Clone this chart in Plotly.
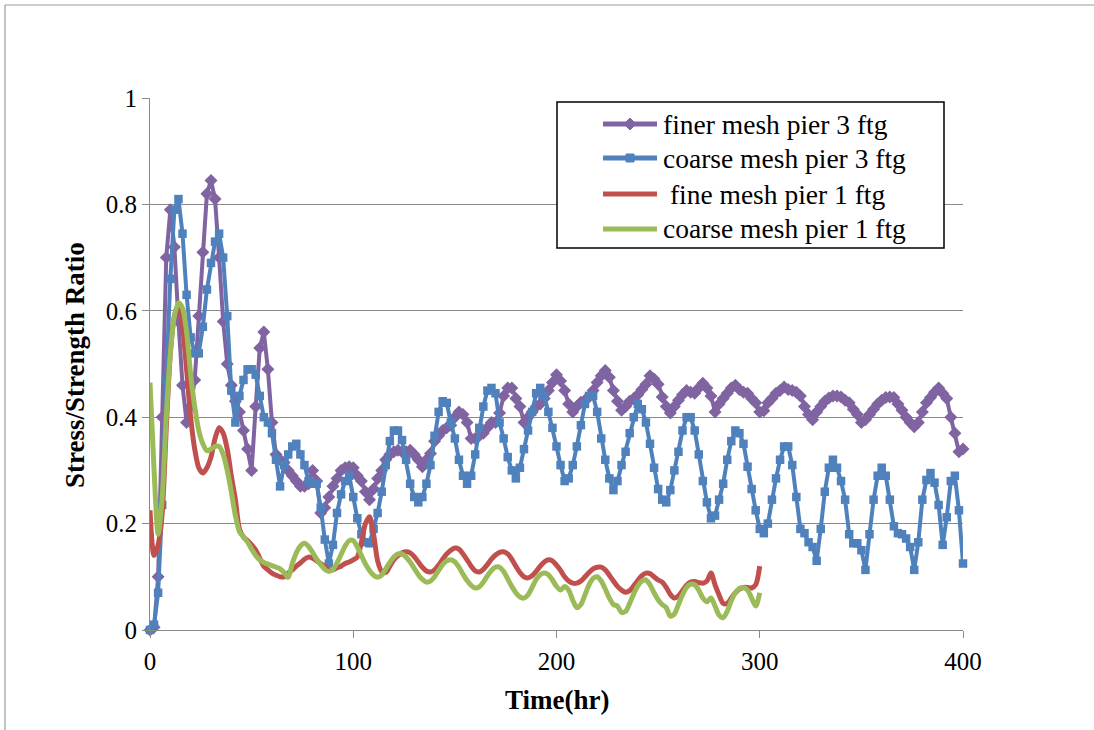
import plotly.graph_objects as go

# ---------------- data ----------------
time_3ftg = list(range(0, 401, 2))
finer_mesh_pier3 = [
    0.0, 0.005, 0.10, 0.40, 0.70, 0.79, 0.72, 0.58, 0.46, 0.39,
    0.42, 0.47, 0.59, 0.71, 0.82, 0.845, 0.81, 0.70, 0.58, 0.50,
    0.46, 0.43, 0.41, 0.375, 0.34, 0.30, 0.42, 0.53, 0.56, 0.49,
    0.39, 0.33, 0.32, 0.315, 0.30, 0.29, 0.28, 0.27, 0.27, 0.275,
    0.30, 0.28, 0.22, 0.23, 0.25, 0.27, 0.285, 0.30, 0.305, 0.307,
    0.305, 0.29, 0.28, 0.26, 0.245, 0.265, 0.285, 0.30, 0.32, 0.33,
    0.335, 0.338, 0.335, 0.335, 0.338, 0.33, 0.32, 0.307, 0.32, 0.332,
    0.355, 0.365, 0.375, 0.38, 0.385, 0.40, 0.41, 0.405, 0.39, 0.36,
    0.36, 0.365, 0.37, 0.38, 0.39, 0.39, 0.408, 0.44, 0.455, 0.455,
    0.435, 0.42, 0.39, 0.40, 0.41, 0.42, 0.425, 0.435, 0.45, 0.465,
    0.48, 0.468, 0.45, 0.425, 0.41, 0.42, 0.428, 0.432, 0.438, 0.45,
    0.465, 0.478, 0.488, 0.475, 0.45, 0.43, 0.413, 0.42, 0.43, 0.435,
    0.442, 0.452, 0.462, 0.478, 0.472, 0.462, 0.438, 0.42, 0.408, 0.42,
    0.432, 0.442, 0.45, 0.447, 0.445, 0.455, 0.464, 0.455, 0.44, 0.41,
    0.425, 0.435, 0.445, 0.455, 0.46, 0.452, 0.447, 0.445, 0.435, 0.427,
    0.41, 0.412, 0.427, 0.435, 0.445, 0.45, 0.457, 0.452, 0.45, 0.447,
    0.44, 0.42, 0.405, 0.395, 0.41, 0.42, 0.43, 0.436, 0.44, 0.44,
    0.438, 0.432, 0.427, 0.415, 0.405, 0.39, 0.395, 0.405, 0.415, 0.425,
    0.432, 0.437, 0.438, 0.437, 0.425, 0.413, 0.40, 0.39, 0.382, 0.39,
    0.41, 0.427, 0.437, 0.447, 0.455, 0.445, 0.435, 0.40, 0.37, 0.335,
    0.34,
]
coarse_mesh_pier3 = [
    0.0, 0.01, 0.07, 0.235, 0.47, 0.66, 0.79, 0.81, 0.745, 0.63,
    0.55, 0.52, 0.52, 0.57, 0.64, 0.69, 0.73, 0.745, 0.70, 0.59,
    0.45, 0.39, 0.44, 0.47, 0.49, 0.49, 0.48, 0.44, 0.40, 0.39,
    0.37, 0.32, 0.27, 0.31, 0.33, 0.345, 0.35, 0.33, 0.31, 0.28,
    0.275, 0.275, 0.23, 0.17, 0.125, 0.16, 0.22, 0.255, 0.28, 0.29,
    0.25, 0.21, 0.18, 0.165, 0.163, 0.19, 0.22, 0.26, 0.31, 0.355,
    0.375, 0.375, 0.357, 0.32, 0.275, 0.25, 0.24, 0.25, 0.275, 0.31,
    0.365, 0.41, 0.43, 0.427, 0.39, 0.36, 0.32, 0.29, 0.275, 0.29,
    0.33, 0.38, 0.42, 0.45, 0.455, 0.445, 0.39, 0.36, 0.325, 0.30,
    0.285, 0.305, 0.34, 0.375, 0.41, 0.445, 0.455, 0.44, 0.41, 0.38,
    0.345, 0.31, 0.28, 0.285, 0.31, 0.345, 0.385, 0.425, 0.44, 0.44,
    0.41, 0.36, 0.32, 0.285, 0.263, 0.28, 0.31, 0.335, 0.37, 0.40,
    0.425, 0.415, 0.39, 0.35, 0.305, 0.265, 0.245, 0.24, 0.263, 0.30,
    0.335, 0.375, 0.40, 0.40, 0.375, 0.33, 0.28, 0.24, 0.21, 0.215,
    0.245, 0.275, 0.32, 0.355, 0.375, 0.37, 0.35, 0.307, 0.265, 0.225,
    0.19, 0.182, 0.20, 0.245, 0.285, 0.32, 0.345, 0.345, 0.31, 0.25,
    0.19, 0.182, 0.165, 0.156, 0.13, 0.19, 0.26, 0.305, 0.32, 0.305,
    0.28, 0.245, 0.18, 0.163, 0.163, 0.15, 0.113, 0.18, 0.245, 0.29,
    0.305, 0.29, 0.245, 0.195, 0.182, 0.18, 0.172, 0.156, 0.113, 0.165,
    0.245, 0.282, 0.295, 0.277, 0.235, 0.16, 0.212, 0.28, 0.29, 0.225,
    0.125,
]
time_1ftg = list(range(0, 301, 2))
fine_mesh_pier1 = [
    0.225, 0.14, 0.16, 0.22, 0.38, 0.52, 0.59, 0.61, 0.57, 0.49,
    0.40, 0.34, 0.305, 0.295, 0.305, 0.325, 0.36, 0.38, 0.37, 0.34,
    0.29, 0.245, 0.19, 0.175, 0.168, 0.16, 0.15, 0.135, 0.12, 0.113,
    0.107, 0.103, 0.10, 0.10, 0.107, 0.113, 0.12, 0.126, 0.133, 0.137,
    0.135, 0.13, 0.125, 0.12, 0.113, 0.113, 0.117, 0.12, 0.125, 0.128,
    0.132, 0.137, 0.165, 0.20, 0.213, 0.18, 0.13, 0.11, 0.108, 0.12,
    0.132, 0.14, 0.145, 0.147, 0.145, 0.138, 0.128, 0.118, 0.111, 0.109,
    0.113, 0.122, 0.133, 0.143, 0.15, 0.154, 0.152, 0.143, 0.132, 0.12,
    0.111, 0.109, 0.114, 0.123, 0.133, 0.141, 0.146, 0.147, 0.143, 0.133,
    0.12, 0.108, 0.10, 0.098, 0.102, 0.11, 0.12, 0.128, 0.132, 0.13,
    0.122, 0.112, 0.10, 0.092, 0.088, 0.088, 0.092, 0.10, 0.108, 0.115,
    0.118, 0.118, 0.113, 0.103, 0.092, 0.082, 0.075, 0.071, 0.074, 0.083,
    0.093, 0.102, 0.107, 0.106, 0.10, 0.094, 0.09, 0.08, 0.067, 0.06,
    0.064, 0.074, 0.084, 0.09, 0.091, 0.089, 0.088, 0.092, 0.107, 0.085,
    0.066, 0.05, 0.05, 0.06, 0.07, 0.077, 0.08, 0.08, 0.079, 0.085,
    0.12,
]
coarse_mesh_pier1 = [
    0.465, 0.30, 0.18, 0.25, 0.40, 0.52, 0.59, 0.615, 0.605, 0.56,
    0.48, 0.42, 0.375, 0.35, 0.337, 0.34, 0.345, 0.345, 0.33, 0.30,
    0.26, 0.215, 0.185, 0.175, 0.165, 0.152, 0.14, 0.132, 0.127, 0.124,
    0.121, 0.118, 0.115, 0.108, 0.099, 0.125, 0.145, 0.158, 0.163, 0.157,
    0.146, 0.133, 0.123, 0.114, 0.11, 0.114, 0.126, 0.142, 0.158, 0.168,
    0.168, 0.156, 0.14, 0.124, 0.112, 0.103, 0.099, 0.103, 0.115, 0.127,
    0.137, 0.143, 0.143, 0.137, 0.128, 0.116, 0.104, 0.095, 0.09, 0.092,
    0.10, 0.112, 0.123, 0.13, 0.132, 0.128, 0.118, 0.105, 0.093, 0.084,
    0.079, 0.081, 0.09, 0.102, 0.112, 0.118, 0.118, 0.11, 0.096, 0.082,
    0.07, 0.062, 0.06, 0.066, 0.08, 0.095, 0.104, 0.107, 0.104, 0.094,
    0.082, 0.075, 0.082, 0.075, 0.056, 0.042, 0.048, 0.066, 0.085, 0.097,
    0.10, 0.092, 0.077, 0.06, 0.048, 0.045, 0.033, 0.035, 0.05, 0.068,
    0.083, 0.092, 0.094, 0.085, 0.07, 0.057, 0.048, 0.042, 0.026, 0.03,
    0.048, 0.066, 0.08, 0.086, 0.085, 0.075, 0.06, 0.053, 0.06, 0.045,
    0.028, 0.023, 0.035, 0.055, 0.07, 0.078, 0.08, 0.075, 0.06, 0.045,
    0.07,
]
x_ticks = [0, 100, 200, 300, 400]
y_ticks = [0, 0.2, 0.4, 0.6, 0.8, 1]
series_names = ["finer mesh pier 3 ftg", "coarse mesh pier 3 ftg",
                " fine mesh pier 1 ftg", "coarse mesh pier 1 ftg"]

# ---------------- figure ----------------
W, H = 1094, 730
L, R, T, B = 150, 131, 98, 100
pw, ph = W - L - R, H - T - B

def px_x(p):
    return (p - L) / pw

def px_y(p):
    return (H - B - p) / ph

PURPLE, BLUE, RED, GREEN = "#8064A2", "#4F81BD", "#C0504D", "#9BBB59"
COLORS = [PURPLE, BLUE, RED, GREEN]
SERIF = "Liberation Serif"

fig = go.Figure()
fig.add_trace(go.Scatter(
    x=time_3ftg, y=finer_mesh_pier3, name=series_names[0], mode="lines+markers",
    line=dict(color=PURPLE, width=4), marker=dict(symbol="diamond", size=10, color=PURPLE),
    cliponaxis=False))
fig.add_trace(go.Scatter(
    x=time_3ftg, y=coarse_mesh_pier3, name=series_names[1], mode="lines+markers",
    line=dict(color=BLUE, width=4), marker=dict(symbol="square", size=8.5, color=BLUE),
    cliponaxis=False))
fig.add_trace(go.Scatter(
    x=time_1ftg, y=fine_mesh_pier1, name=series_names[2], mode="lines",
    line=dict(color=RED, width=5, shape="spline", smoothing=0.8),
    cliponaxis=False))
fig.add_trace(go.Scatter(
    x=time_1ftg, y=coarse_mesh_pier1, name=series_names[3], mode="lines",
    line=dict(color=GREEN, width=5, shape="spline", smoothing=0.8),
    cliponaxis=False))

GRID = "#8A8A8A"
fig.update_xaxes(range=[0, 400], tickvals=x_ticks, ticks="outside", ticklen=7,
                 tickcolor=GRID, showline=True, linecolor=GRID, linewidth=1.2,
                 showgrid=False, zeroline=False, ticklabelstandoff=2,
                 tickfont=dict(family=SERIF, size=25, color="black"))
fig.update_yaxes(range=[0, 1], tickvals=y_ticks, ticks="outside", ticklen=7,
                 tickcolor=GRID, showline=True, linecolor=GRID, linewidth=1.2,
                 showgrid=True, gridcolor=GRID, gridwidth=1.2, zeroline=False,
                 tickfont=dict(family=SERIF, size=25, color="black"))

# ---- legend (drawn box, sample lines and text) ----
shapes = [
    dict(type="rect", xref="paper", yref="paper",
         x0=px_x(557), x1=px_x(944), y0=px_y(248), y1=px_y(102),
         line=dict(color="black", width=1.5), fillcolor="white", layer="above"),
    dict(type="line", xref="paper", yref="paper",
         x0=px_x(5), x1=px_x(1100), y0=px_y(5), y1=px_y(5),
         line=dict(color="#9A9A9A", width=1.2)),
    dict(type="line", xref="paper", yref="paper",
         x0=px_x(5), x1=px_x(5), y0=px_y(5), y1=px_y(740),
         line=dict(color="#9A9A9A", width=1.2)),
]
annotations = []
row_y = [124, 158, 194, 229]
for i, (name, col) in enumerate(zip(series_names, COLORS)):
    cy = row_y[i]
    shapes.append(dict(type="line", xref="paper", yref="paper", layer="above",
                       x0=px_x(603), x1=px_x(657), y0=px_y(cy), y1=px_y(cy),
                       line=dict(color=col, width=5)))
    if i == 0:
        path = "M {},{} L {},{} L {},{} L {},{} Z".format(
            px_x(630), px_y(cy - 6), px_x(636), px_y(cy), px_x(630), px_y(cy + 6),
            px_x(624), px_y(cy))
        shapes.append(dict(type="path", xref="paper", yref="paper", layer="above",
                           path=path, fillcolor=col, line=dict(color=col, width=1)))
    elif i == 1:
        shapes.append(dict(type="rect", xref="paper", yref="paper", layer="above",
                           x0=px_x(626), x1=px_x(634), y0=px_y(cy + 4), y1=px_y(cy - 4),
                           fillcolor=col, line=dict(color=col, width=1)))
    annotations.append(dict(text=name.replace(" ", "\u00a0", 1) if name.startswith(" ") else name,
                            xref="paper", yref="paper", x=px_x(661), y=px_y(cy),
                            xanchor="left", yanchor="middle", showarrow=False,
                            font=dict(family=SERIF, size=27.5, color="black")))

annotations += [
    dict(text="<b>Time(hr)</b>", xref="paper", yref="paper",
         x=px_x(557), y=px_y(700), xanchor="center", yanchor="middle", showarrow=False,
         font=dict(family=SERIF, size=27, color="black")),
    dict(text="<b>Stress/Strength Ratio</b>", xref="paper", yref="paper",
         x=px_x(75), y=px_y(365), xanchor="center", yanchor="middle",
         showarrow=False, textangle=-90,
         font=dict(family=SERIF, size=27, color="black")),
]

fig.update_layout(
    width=W, height=H, margin=dict(l=L, r=R, t=T, b=B, autoexpand=False),
    paper_bgcolor="white", plot_bgcolor="white",
    font=dict(family=SERIF, color="black"),
    showlegend=False,
    shapes=shapes,
    annotations=annotations,
)

fig.write_html("out.html", config={"displayModeBar": False},
               post_script="document.body.style.margin='0';")
